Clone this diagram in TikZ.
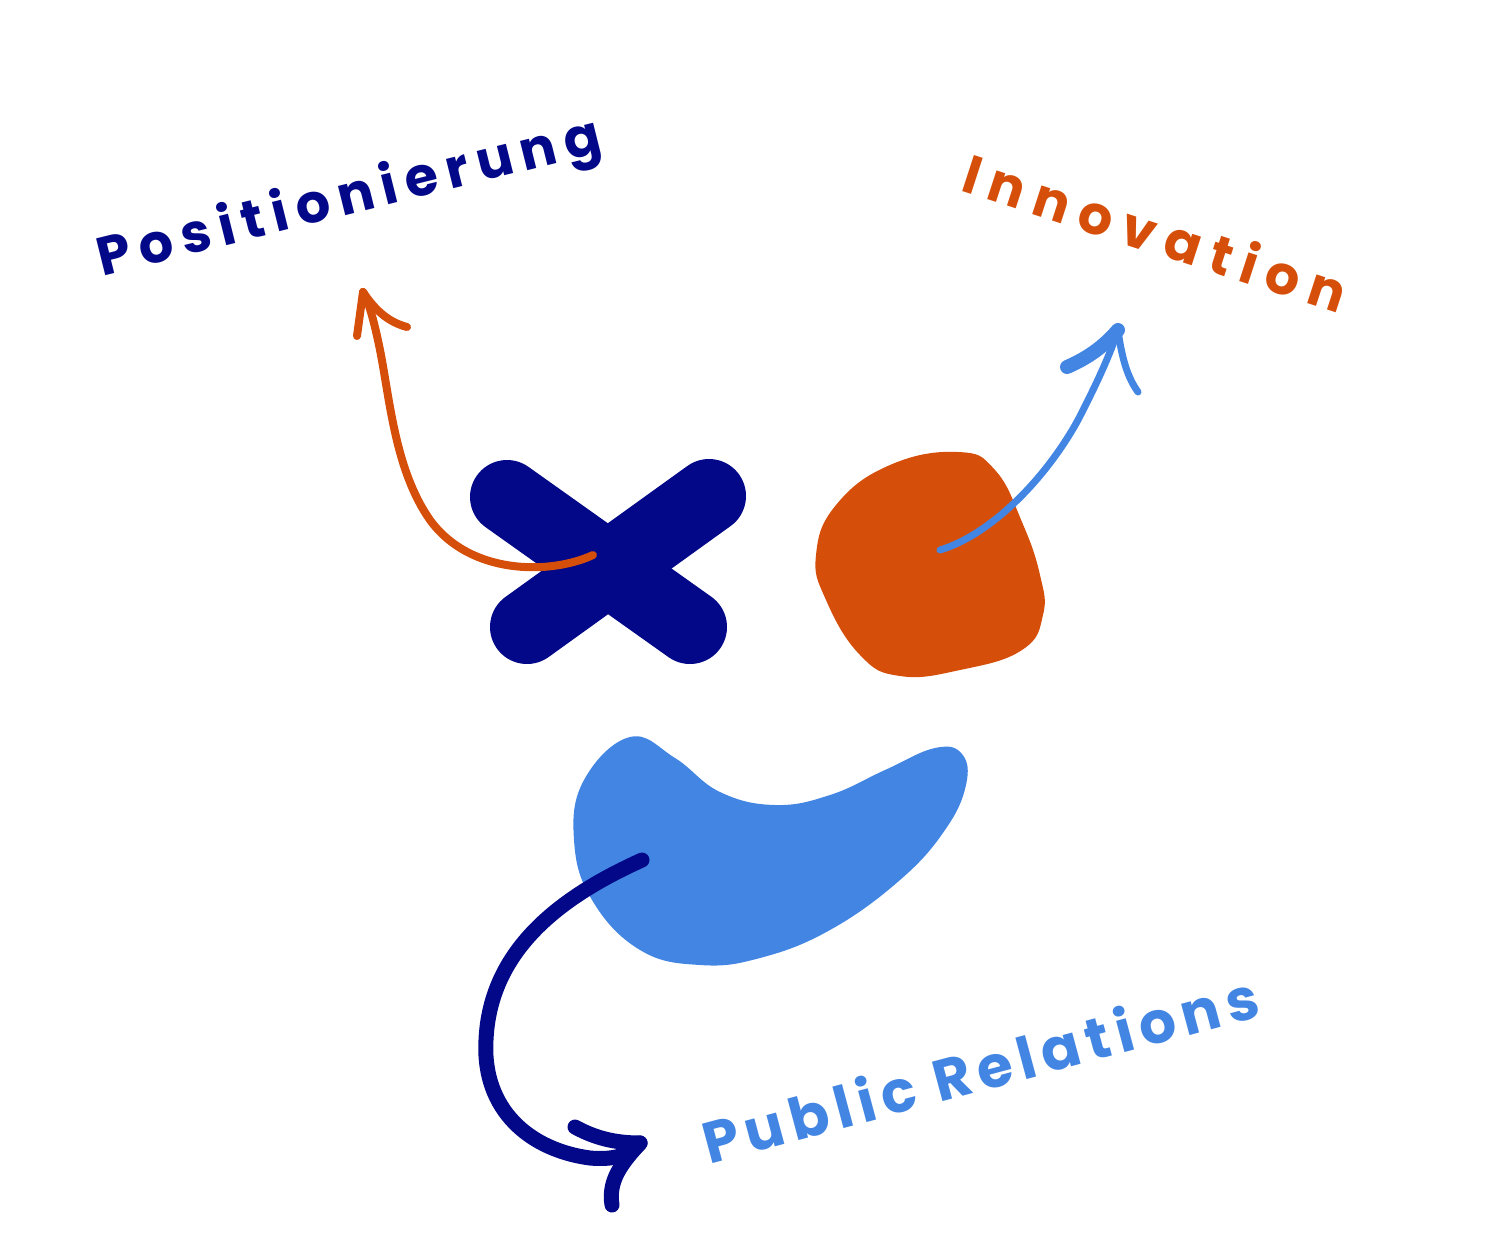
\documentclass[tikz,border=0pt]{standalone}
\usepackage{fontspec}
\setmainfont{Poppins}
\begin{document}
\begin{tikzpicture}[x=1pt,y=-1pt,
  dblue/.style={draw=cDark,line cap=round,line join=round},
  lbl/.style={inner sep=0pt,anchor=center}]
\definecolor{cDark}{HTML}{020887}
\definecolor{cOrange}{HTML}{D64F0A}
\definecolor{cLight}{HTML}{4285E3}
\useasboundingbox (0,0) rectangle (1488,1254);
% X
\draw[cDark,line width=74pt,line cap=round] (507,497) -- (690,627);
\draw[cDark,line width=74pt,line cap=round] (709,496) -- (527,627);
% orange blob
\fill[cOrange] plot[smooth cycle,tension=0.75] coordinates{(958,452) (995,470) (1022,522) (1040,575) (1043,615) (1022,650) (960,670) (900,676) (860,655) (826,600) (816,555) (836,505) (890,465)};
% light blue blob
\fill[cLight] plot[smooth cycle,tension=0.7] coordinates{(630,737) (675,758) (720,792) (775,805) (830,795) (885,770) (935,748) (962,754) (966,785) (945,830) (900,880) (830,930) (760,958) (700,965) (640,950) (592,900) (574,840) (584,780)};
% anchors
\coordinate (xs) at (593,555);
\coordinate (ot) at (363,292);
\coordinate (bs) at (940,550);
\coordinate (bt) at (1118,330);
\coordinate (ds) at (642,860);
\coordinate (dt) at (640,1143);
% orange arrow
\draw[cOrange,line width=8pt,line cap=round] (xs) .. controls (550,575) and (470,575) .. (430,520) .. controls (395,470) and (390,400) .. (380,350) .. controls (374,320) and (368,300) .. (ot);
\draw[cOrange,line width=8pt,line cap=round] (ot) -- (357,336);
\draw[cOrange,line width=8pt,line cap=round] (ot) .. controls (375,310) and (388,322) .. (407,327);
% blue arrow
\draw[cLight,line width=7pt,line cap=round] (bs) .. controls (990,535) and (1045,480) .. (1078,420) .. controls (1096,385) and (1110,355) .. (bt);
\draw[cLight,line width=14pt,line cap=round] (bt) .. controls (1105,345) and (1090,357) .. (1067,367);
\draw[cLight,line width=7pt,line cap=round] (bt) .. controls (1122,360) and (1128,378) .. (1138,392);
% dark blue arrow
\draw[dblue,line width=15pt] (ds) .. controls (560,897) and (490,950) .. (486,1040) .. controls (482,1110) and (530,1150) .. (590,1158) .. controls (612,1160) and (630,1156) .. (dt);
\draw[dblue,line width=15pt] (575,1127) .. controls (595,1138) and (615,1143) .. (dt);
\draw[dblue,line width=15pt] (dt) .. controls (622,1163) and (608,1180) .. (612,1205);
% labels
\node[lbl,text=cDark,rotate=14,font=\fontsize{54}{60}\selectfont\bfseries\addfontfeature{LetterSpace=16}] (pos) at (350,200) {Positionierung};
\node[lbl,text=cOrange,rotate=-18,font=\fontsize{54}{60}\selectfont\bfseries\addfontfeature{LetterSpace=20}] (inn) at (1156,232) {Innovation};
\node[lbl,text=cLight,rotate=15,font=\fontsize{58}{66}\selectfont\bfseries\addfontfeature{LetterSpace=12}] (pr) at (980,1068) {Public Relations};
\end{tikzpicture}
\end{document}
